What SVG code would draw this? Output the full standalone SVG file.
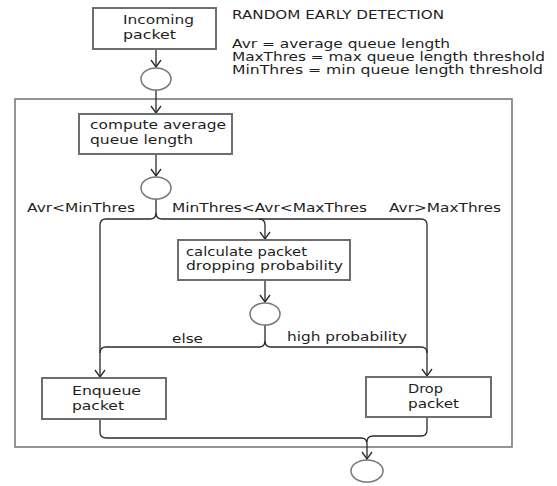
<svg xmlns="http://www.w3.org/2000/svg" width="557" height="486" viewBox="0 0 557 486">
<style>
text{font-family:"DejaVu Sans","Verdana",sans-serif;font-size:12px;fill:#1e1e1e}
.box{fill:#fff;stroke:#6e6e6e;stroke-width:2}
.node{fill:#fff;stroke:#777;stroke-width:1.5}
.frame{fill:none;stroke:#7a7a7a;stroke-width:1.6}
.edge{fill:none;stroke:#2a2a2a;stroke-width:1.3}
</style>
<defs>
<marker id="arr" viewBox="0 0 12 10" refX="6" refY="9" markerWidth="12" markerHeight="10" markerUnits="userSpaceOnUse" orient="0">
<path d="M1,2 L6,9 L11,2" fill="none" stroke="#2a2a2a" stroke-width="1.3"/>
</marker>
</defs>
<rect id="container" class="frame" x="15" y="99" width="497" height="348"/>
<g id="legend">
<text x="232" y="19" textLength="212" lengthAdjust="spacingAndGlyphs">RANDOM EARLY DETECTION</text>
<text x="232" y="48" textLength="218" lengthAdjust="spacingAndGlyphs">Avr = average queue length</text>
<text x="232" y="61" textLength="313" lengthAdjust="spacingAndGlyphs">MaxThres = max queue length threshold</text>
<text x="232" y="74" textLength="311" lengthAdjust="spacingAndGlyphs">MinThres = min queue length threshold</text>
</g>
<g id="connectors">
<path class="edge" d="M156,49 V67" marker-end="url(#arr)"/>
<path class="edge" d="M156,90 V113" marker-end="url(#arr)"/>
<path class="edge" d="M156,154 V176" marker-end="url(#arr)"/>
<path class="edge" d="M156,199 V213 Q156,219 150,219 H106 Q100,219 100,225 V377" marker-end="url(#arr)"/>
<path class="edge" d="M156,213 Q156,219 162,219 H421 Q427,219 427,225 V376" marker-end="url(#arr)"/>
<path class="edge" d="M259,219 Q265,219 265,225 V239" marker-end="url(#arr)"/>
<path class="edge" d="M265,280 V302" marker-end="url(#arr)"/>
<path class="edge" d="M265,325 V341 Q265,347 259,347 H106 Q100,347 100,353"/>
<path class="edge" d="M265,341 Q265,347 271,347 H421 Q427,347 427,353"/>
<path class="edge" d="M100,419 V432 Q100,438 106,438 H361 Q367,438 367,444 V459" marker-end="url(#arr)"/>
<path class="edge" d="M427,417 V430 Q427,436 421,436 H373 Q367,436 367,442"/>
<text x="27" y="212" textLength="108" lengthAdjust="spacingAndGlyphs">Avr&lt;MinThres</text>
<text x="172" y="212" textLength="195" lengthAdjust="spacingAndGlyphs">MinThres&lt;Avr&lt;MaxThres</text>
<text x="389" y="212" textLength="112" lengthAdjust="spacingAndGlyphs">Avr&gt;MaxThres</text>
<text x="172" y="343" textLength="31" lengthAdjust="spacingAndGlyphs">else</text>
<text x="287" y="341" textLength="120" lengthAdjust="spacingAndGlyphs">high probability</text>
</g>
<g id="incoming">
<rect class="box" x="93" y="8" width="123" height="41"/>
<text x="123" y="24" textLength="71" lengthAdjust="spacingAndGlyphs">Incoming</text>
<text x="123" y="39" textLength="53" lengthAdjust="spacingAndGlyphs">packet</text>
</g>
<g id="start">
<ellipse class="node" cx="156" cy="79" rx="15" ry="11"/>
</g>
<g id="compute">
<rect class="box" x="79" y="114" width="153" height="40"/>
<text x="90" y="129" textLength="136" lengthAdjust="spacingAndGlyphs">compute average</text>
<text x="90" y="144" textLength="103" lengthAdjust="spacingAndGlyphs">queue length</text>
</g>
<g id="decision1">
<ellipse class="node" cx="156" cy="188" rx="15" ry="11"/>
</g>
<g id="calculate">
<rect class="box" x="178" y="240" width="172" height="40"/>
<text x="186" y="256" textLength="121" lengthAdjust="spacingAndGlyphs">calculate packet</text>
<text x="186" y="270" textLength="157" lengthAdjust="spacingAndGlyphs">dropping probability</text>
</g>
<g id="decision2">
<ellipse class="node" cx="265" cy="314" rx="15" ry="11"/>
</g>
<g id="enqueue">
<rect class="box" x="42" y="378" width="124" height="41"/>
<text x="72" y="395" textLength="69" lengthAdjust="spacingAndGlyphs">Enqueue</text>
<text x="72" y="410" textLength="52" lengthAdjust="spacingAndGlyphs">packet</text>
</g>
<g id="drop">
<rect class="box" x="366" y="377" width="125" height="40"/>
<text x="408" y="393" textLength="35" lengthAdjust="spacingAndGlyphs">Drop</text>
<text x="408" y="408" textLength="51" lengthAdjust="spacingAndGlyphs">packet</text>
</g>
<g id="end">
<ellipse class="node" cx="367" cy="471" rx="16" ry="11"/>
</g>
</svg>
